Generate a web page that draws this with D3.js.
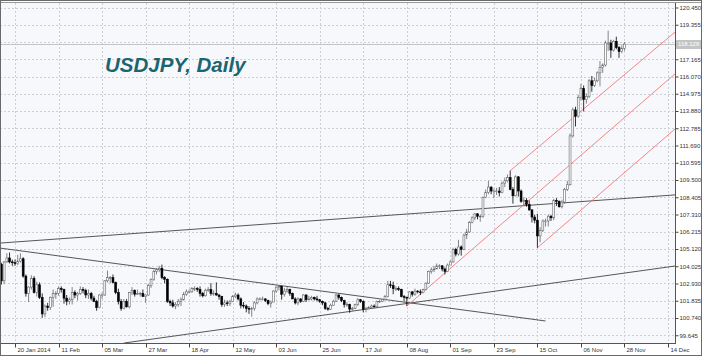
<!DOCTYPE html>
<html><head><meta charset="utf-8">
<script src="https://cdn.jsdelivr.net/npm/d3@7"></script>
<style>html,body{margin:0;padding:0;background:#fff;} svg{display:block;}</style>
</head><body><svg id="c" width="702" height="356"></svg>
<script>
// ---- data ----
const chartTitle = "USDJPY, Daily";
const priceTicks = [99.645,100.740,101.835,102.930,104.025,105.120,106.215,107.310,108.405,109.500,110.595,111.690,112.785,113.880,114.975,116.070,117.165,118.260,119.355,120.450];
const dateTickIndex = [5,21,37,53,69,85,101,117,133,149,165,181,197,213,229,245];
const dateTickLabels = ["20 Jan 2014","11 Feb","05 Mar","27 Mar","18 Apr","12 May","03 Jun","25 Jun","17 Jul","08 Aug","01 Sep","23 Sep","15 Oct","06 Nov","28 Nov","14 Dec"];
const opens = [
104.15,103.10,104.30,104.55,104.30,104.25,104.20,104.35,104.50,103.40,
102.30,102.70,103.25,102.35,102.85,102.05,101.00,101.50,101.40,102.05,
102.30,102.30,102.60,102.55,102.00,101.80,101.90,102.35,102.20,102.30,
102.55,102.50,102.20,102.30,102.00,101.80,101.40,102.20,102.20,103.10,
103.30,103.30,103.00,102.35,101.80,101.35,101.80,101.45,102.35,102.50,
102.25,102.30,102.30,102.10,102.20,102.80,103.20,103.70,103.80,103.90,
103.30,103.20,101.80,101.70,101.50,101.60,101.80,101.90,102.25,102.40,
102.40,102.60,102.60,102.55,102.30,102.15,102.50,102.55,102.30,102.30,
102.20,102.10,101.60,101.70,101.65,101.80,102.10,102.20,101.95,101.55,
101.50,101.35,101.30,101.35,101.70,101.95,101.95,101.95,101.85,101.65,
101.75,102.45,102.70,102.75,102.25,102.45,102.55,102.30,101.95,101.70,
101.95,101.80,102.20,101.90,101.95,102.05,101.95,101.90,101.80,101.70,
101.35,101.30,101.55,101.80,102.20,102.05,101.85,101.60,101.60,101.30,
101.35,101.60,101.90,101.80,101.30,101.35,101.40,101.50,101.45,101.80,
101.80,101.90,102.10,102.85,102.80,102.60,102.60,102.55,102.10,102.05,
102.00,102.40,102.25,102.45,102.40,102.35,102.55,102.95,103.70,103.80,
103.85,104.05,104.05,103.85,103.70,104.10,104.30,105.10,104.80,105.25,
105.10,106.00,106.20,106.80,107.10,107.35,107.20,107.20,108.40,108.70,
109.05,108.80,108.80,108.80,108.70,109.30,109.45,109.65,108.90,108.50,
109.70,108.80,108.15,108.20,107.95,107.60,107.15,106.95,105.95,106.30,
106.90,106.90,107.20,107.10,108.20,108.15,107.80,108.10,108.90,109.20,
112.30,113.95,113.55,114.75,115.30,114.60,114.80,115.80,115.50,115.80,
116.30,116.65,116.80,118.20,118.20,117.75,118.30,117.90,117.65,117.85];
const highs = [
104.25,104.35,104.85,104.90,104.45,104.45,104.75,104.85,104.60,103.50,
102.75,103.45,103.40,103.05,103.00,102.30,101.60,101.70,102.10,102.55,
102.45,102.75,102.75,102.60,102.20,102.05,102.70,102.50,102.40,102.75,
102.70,102.60,102.55,102.40,102.15,101.90,102.25,102.35,103.15,103.75,
103.40,103.50,103.05,102.60,101.95,101.95,101.95,102.40,102.70,102.55,
102.55,102.40,102.55,102.25,102.90,103.25,103.80,103.90,104.05,104.13,
103.40,103.25,101.90,101.90,101.75,101.95,102.05,102.40,102.55,102.55,
102.70,102.75,102.70,102.75,102.40,102.60,102.70,102.95,102.50,103.00,
102.25,102.15,101.90,101.85,101.90,102.20,102.35,102.30,102.05,101.75,
101.60,101.50,101.45,101.80,102.05,102.05,102.10,102.00,101.90,101.85,
102.50,102.75,102.80,102.80,102.65,102.70,102.60,102.35,102.05,102.05,
102.00,102.25,102.25,102.15,102.15,102.10,102.15,101.95,101.85,101.75,
101.45,101.65,101.90,102.27,102.25,102.10,101.90,101.75,101.65,101.45,
101.65,102.00,101.95,101.85,101.45,101.50,101.60,101.60,101.85,101.90,
101.95,102.20,103.10,103.10,103.05,102.75,102.75,102.60,102.20,102.10,
102.45,102.45,102.60,102.50,102.55,102.60,103.00,103.75,103.95,104.05,
104.20,104.15,104.10,103.95,104.20,104.40,105.20,105.20,105.70,105.35,
106.10,106.40,106.90,107.20,107.40,107.40,107.30,108.45,108.90,109.45,
109.10,108.95,109.00,109.05,109.40,109.65,109.85,110.09,109.05,109.80,
109.75,108.90,108.40,108.35,108.20,107.65,107.30,107.35,106.50,107.00,
107.05,107.30,107.30,108.30,108.35,108.20,108.25,109.00,109.45,112.45,
114.10,114.15,114.90,115.60,115.50,115.00,115.90,116.10,116.00,116.40,
117.05,116.90,118.35,118.98,118.40,118.40,118.60,118.00,118.05,118.25];
const lows = [
102.86,102.90,104.25,104.20,104.05,104.05,104.10,104.25,103.30,102.10,
101.75,102.55,102.30,102.10,101.95,100.75,100.80,101.20,101.25,101.45,
101.95,102.15,102.35,101.65,101.55,101.60,101.60,102.00,101.85,102.20,
102.30,102.00,101.95,101.85,101.75,101.20,101.35,101.95,102.15,103.00,
102.95,102.95,102.25,101.60,101.20,101.30,101.40,101.35,102.20,102.10,
102.20,102.10,102.10,101.70,102.15,102.65,103.10,103.50,103.65,103.20,
102.95,101.70,101.50,101.40,101.30,101.45,101.50,101.85,102.15,102.30,
102.35,102.45,102.40,102.10,102.05,102.10,102.40,102.15,102.15,102.15,
101.90,101.45,101.45,101.50,101.50,101.75,102.00,101.85,101.35,101.35,
101.10,101.00,100.82,101.20,101.60,101.85,101.85,101.75,101.55,101.40,
101.75,102.35,102.50,101.90,102.10,102.35,102.15,101.95,101.60,101.55,
101.70,101.75,101.75,101.85,101.85,101.85,101.80,101.70,101.55,101.25,
101.20,101.25,101.50,101.75,101.90,101.75,101.40,101.45,101.07,101.20,
101.30,101.50,101.70,101.10,101.10,101.30,101.35,101.40,101.40,101.70,
101.75,101.85,102.05,102.65,102.25,102.45,102.45,102.05,101.80,101.50,
101.95,102.10,102.15,102.30,102.20,102.30,102.50,102.90,103.55,103.65,
103.85,103.85,103.70,103.50,103.65,104.10,104.25,104.65,104.70,104.70,
105.05,105.75,106.15,106.75,106.95,107.00,106.85,107.10,108.35,108.60,
108.60,108.35,108.55,108.45,108.65,109.05,109.35,108.85,108.00,108.45,
108.45,108.05,107.85,107.80,107.55,106.80,106.75,105.20,105.55,106.20,
106.55,106.55,106.90,106.95,107.85,107.75,107.70,108.00,108.80,109.15,
112.20,112.90,113.45,114.55,113.85,114.35,114.70,115.10,115.40,115.70,
115.45,116.30,116.70,117.70,117.25,117.65,117.80,117.25,117.55,117.70];
const closes = [
103.10,104.30,104.55,104.30,104.25,104.20,104.35,104.50,103.40,102.30,
102.70,103.25,102.35,102.85,102.05,101.00,101.50,101.40,102.05,102.30,
102.30,102.60,102.55,102.00,101.80,101.90,102.35,102.20,102.30,102.55,
102.50,102.20,102.30,102.00,101.80,101.40,102.20,102.20,103.10,103.30,
103.30,103.00,102.35,101.80,101.35,101.80,101.45,102.35,102.50,102.25,
102.30,102.30,102.10,102.20,102.80,103.20,103.70,103.80,103.90,103.30,
103.20,101.80,101.70,101.50,101.60,101.80,101.90,102.25,102.40,102.40,
102.60,102.60,102.55,102.30,102.15,102.50,102.55,102.30,102.30,102.20,
102.10,101.60,101.70,101.65,101.80,102.10,102.20,101.95,101.55,101.50,
101.35,101.30,101.35,101.70,101.95,101.95,101.95,101.85,101.65,101.75,
102.45,102.70,102.75,102.25,102.45,102.55,102.30,101.95,101.70,101.95,
101.80,102.20,101.90,101.95,102.05,101.95,101.90,101.80,101.70,101.35,
101.30,101.55,101.80,102.20,102.05,101.85,101.60,101.60,101.30,101.35,
101.60,101.90,101.80,101.30,101.35,101.40,101.50,101.45,101.80,101.80,
101.90,102.10,102.85,102.80,102.60,102.60,102.55,102.10,102.05,102.00,
102.40,102.25,102.45,102.40,102.35,102.55,102.95,103.70,103.80,103.85,
104.05,104.05,103.85,103.70,104.10,104.30,105.10,104.80,105.25,105.10,
106.00,106.20,106.80,107.10,107.35,107.20,107.20,108.40,108.70,109.05,
108.80,108.80,108.80,108.70,109.30,109.45,109.65,108.90,108.50,109.70,
108.80,108.15,108.20,107.95,107.60,107.15,106.95,105.95,106.30,106.90,
106.90,107.20,107.10,108.20,108.15,107.80,108.10,108.90,109.20,112.30,
113.95,113.55,114.75,115.30,114.60,114.80,115.80,115.50,115.80,116.30,
116.65,116.80,118.20,118.20,117.75,118.30,117.90,117.65,117.85,118.13];
const bidPrice = 118.128;
// trend lines: [barIndex1, price1, barIndex2, price2]
const blackLines = [
  [-1, 105.19, 200, 100.55],
  [-1, 105.49, 248, 108.56],
  [45, 99.15, 248, 104.05]
];
const redLines = [
  [187, 110.09, 248, 118.95],
  [149, 101.50, 248, 116.30],
  [197, 105.20, 248, 112.80]
];

// ---- drawing ----
const W = 702, H = 356;
const plot = {left: 0, right: 675, top: 3, bottom: 343};
const svg = d3.select("#c");
const x = d3.scaleLinear().domain([0, 245]).range([1.4, 668]);
const y = d3.scaleLinear().domain([99.645, 120.45]).range([335.25, 7.5]);
const font = "'Liberation Sans', Arial, sans-serif";

svg.append("rect").attr("width", W).attr("height", H).attr("fill", "#ffffff");
svg.append("rect").attr("x", plot.left).attr("y", plot.top)
  .attr("width", plot.right - plot.left).attr("height", plot.bottom - plot.top)
  .attr("fill", "#f7f8fc");

svg.append("defs").append("clipPath").attr("id", "clip")
  .append("rect").attr("x", plot.left).attr("y", plot.top)
  .attr("width", plot.right - plot.left).attr("height", plot.bottom - plot.top);

// grid
const grid = svg.append("g").attr("stroke", "#cfd0d6").attr("stroke-width", 1).attr("stroke-dasharray", "2,2");
grid.selectAll("line.h").data(priceTicks).join("line").attr("class", "h")
  .attr("x1", plot.left).attr("x2", plot.right)
  .attr("y1", d => Math.round(y(d)) + 0.5).attr("y2", d => Math.round(y(d)) + 0.5);
grid.selectAll("line.v").data(dateTickIndex).join("line").attr("class", "v")
  .attr("y1", plot.top).attr("y2", plot.bottom)
  .attr("x1", d => Math.round(x(d)) + 0.5).attr("x2", d => Math.round(x(d)) + 0.5);

const g = svg.append("g").attr("clip-path", "url(#clip)");

// bid line
g.append("line").attr("x1", plot.left).attr("x2", plot.right)
  .attr("y1", Math.round(y(bidPrice)) + 0.5).attr("y2", Math.round(y(bidPrice)) + 0.5)
  .attr("stroke", "#c4c4c4").attr("stroke-width", 1);

// title
svg.append("text").attr("x", 105).attr("y", 72).text(chartTitle)
  .attr("font-family", font).attr("font-weight", "bold").attr("font-style", "italic")
  .attr("font-size", 20.5).attr("fill", "#1b6571");

// trend lines
g.selectAll("line.blk").data(blackLines).join("line").attr("class", "blk")
  .attr("x1", d => x(d[0])).attr("y1", d => y(d[1]))
  .attr("x2", d => x(d[2])).attr("y2", d => y(d[3]))
  .attr("stroke", "#444").attr("stroke-width", 0.9);
g.selectAll("line.red").data(redLines).join("line").attr("class", "red")
  .attr("x1", d => x(d[0])).attr("y1", d => y(d[1]))
  .attr("x2", d => x(d[2])).attr("y2", d => y(d[3]))
  .attr("stroke", "#f07a7a").attr("stroke-width", 0.9);

// candles
const idx = d3.range(closes.length);
const bw = 1.9;
const cg = g.append("g");
cg.selectAll("line.wick").data(idx).join("line").attr("class", "wick")
  .attr("x1", i => x(i)).attr("x2", i => x(i))
  .attr("y1", i => y(highs[i])).attr("y2", i => y(lows[i]))
  .attr("stroke", i => closes[i] >= opens[i] ? "#666" : "#000").attr("stroke-width", 0.8);
cg.selectAll("rect.body").data(idx).join("rect").attr("class", "body")
  .attr("x", i => x(i) - bw / 2).attr("width", bw)
  .attr("y", i => y(Math.max(opens[i], closes[i])))
  .attr("height", i => Math.max(0.6, Math.abs(y(opens[i]) - y(closes[i]))))
  .attr("fill", i => closes[i] >= opens[i] ? "#ffffff" : "#000000")
  .attr("stroke", i => closes[i] >= opens[i] ? "#666" : "#000000")
  .attr("stroke-width", 0.6);

// frame lines
svg.append("line").attr("x1", plot.right + 0.5).attr("x2", plot.right + 0.5)
  .attr("y1", plot.top).attr("y2", plot.bottom).attr("stroke", "#555");
svg.append("line").attr("x1", 0).attr("x2", plot.right + 1)
  .attr("y1", plot.bottom + 0.5).attr("y2", plot.bottom + 0.5).attr("stroke", "#555");
svg.append("line").attr("x1", 0).attr("x2", W)
  .attr("y1", plot.top - 0.5).attr("y2", plot.top - 0.5).attr("stroke", "#9a9a9a");

// right axis (the tick label hidden under the bid box is left blank, as in the reference)
const by = Math.round(y(bidPrice));
const ay = svg.append("g").attr("transform", `translate(${plot.right + 0.5},0)`)
  .call(d3.axisRight(y).tickValues(priceTicks)
    .tickFormat(d => Math.abs(y(d) - y(bidPrice)) < 8 ? "" : d3.format(".3f")(d))
    .tickSize(3).tickPadding(1));
ay.select(".domain").remove();
ay.selectAll("line").attr("stroke", "#444");
ay.selectAll("text").attr("font-family", font).attr("font-size", 6).attr("fill", "#333");

// bottom axis
const ax = svg.append("g").attr("transform", `translate(0,${plot.bottom + 0.5})`)
  .call(d3.axisBottom(x).tickValues(dateTickIndex).tickFormat((d, i) => dateTickLabels[i]).tickSize(4).tickPadding(0));
ax.select(".domain").remove();
ax.selectAll(".tick").attr("transform", d => `translate(${Math.round(x(d)) + 0.5},0)`);
ax.selectAll("line").attr("stroke", "#444");
ax.selectAll("text").attr("font-family", font).attr("font-size", 6).attr("fill", "#333")
  .attr("text-anchor", "start").attr("x", 2);

// bid label
svg.append("rect").attr("x", plot.right + 1).attr("y", by - 4).attr("width", 26).attr("height", 9).attr("fill", "#c4c4c4");
svg.append("text").attr("x", plot.right + 3).attr("y", by + 2.2).text(d3.format(".3f")(bidPrice))
  .attr("font-family", font).attr("font-size", 6).attr("fill", "#ffffff");

// outer border
svg.append("rect").attr("x", 0.5).attr("y", 0.5).attr("width", W - 1).attr("height", H - 1)
  .attr("fill", "none").attr("stroke", "#6a6a6a");
</script></body></html>
